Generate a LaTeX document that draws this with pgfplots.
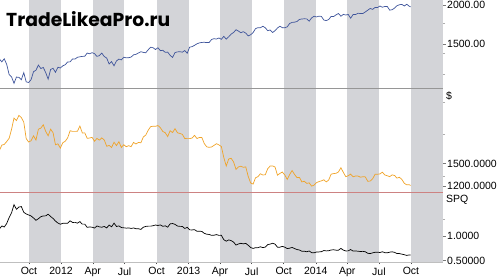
\documentclass[border=0pt]{standalone}
\usepackage{graphicx}
\usepackage{fontspec}
\setmainfont{Liberation Sans}
\newfontfamily\wmfont{Poppins}
\usepackage{pgfplots}
\usepackage{pgfplotstable}
\pgfplotsset{compat=1.18}
\definecolor{bandgray}{RGB}{211,212,216}
\definecolor{sepgray}{RGB}{150,150,150}
\definecolor{sepred}{RGB}{205,130,130}
\definecolor{tickgray}{RGB}{120,120,120}
\definecolor{spxblue}{RGB}{62,84,155}
\definecolor{goldor}{RGB}{240,163,40}

\pgfplotstableread{
d spx gold spq
7 1344 1542 1.147
14 1316 1594 1.211
21 1346 1601 1.189
28 1292 1628 1.260
35 1199 1659 1.384
42 1178 1745 1.481
49 1124 1852 1.648
56 1177 1828 1.553
63 1174 1877 1.599
70 1154 1857 1.609
77 1216 1813 1.491
84 1136 1656 1.458
91 1131 1624 1.436
98 1155 1636 1.416
105 1224 1682 1.374
112 1238 1642 1.326
119 1285 1746 1.359
126 1253 1756 1.401
133 1263 1788 1.416
140 1216 1724 1.418
147 1159 1683 1.452
154 1244 1746 1.404
161 1255 1713 1.365
168 1219 1598 1.311
175 1265 1606 1.270
182 1258 1566 1.245
189 1278 1617 1.265
196 1289 1631 1.265
203 1315 1664 1.265
210 1316 1731 1.315
217 1345 1725 1.283
224 1343 1725 1.284
231 1361 1726 1.268
238 1366 1776 1.300
245 1370 1710 1.248
252 1371 1711 1.248
259 1404 1659 1.182
266 1397 1662 1.190
273 1408 1668 1.185
280 1398 1631 1.167
287 1370 1658 1.210
294 1378 1642 1.192
301 1403 1663 1.185
308 1369 1643 1.200
315 1353 1583 1.170
322 1295 1591 1.229
329 1318 1572 1.193
336 1278 1622 1.269
343 1325 1590 1.200
350 1343 1627 1.211
357 1335 1572 1.178
364 1362 1598 1.173
371 1355 1579 1.165
378 1357 1589 1.171
385 1363 1580 1.159
392 1386 1620 1.169
399 1391 1605 1.154
406 1405 1620 1.153
413 1418 1616 1.140
420 1411 1671 1.184
427 1407 1690 1.201
434 1438 1735 1.207
441 1466 1770 1.207
448 1460 1774 1.215
455 1441 1773 1.230
462 1460 1781 1.220
469 1429 1760 1.232
476 1433 1724 1.203
483 1411 1712 1.213
490 1414 1676 1.185
497 1380 1731 1.254
504 1360 1714 1.260
511 1409 1751 1.243
518 1416 1712 1.209
525 1418 1705 1.202
532 1413 1697 1.201
539 1430 1657 1.159
546 1402 1656 1.181
553 1466 1656 1.130
560 1472 1662 1.129
567 1486 1687 1.135
574 1503 1657 1.102
581 1513 1667 1.102
588 1518 1667 1.098
595 1520 1609 1.059
602 1516 1578 1.041
609 1518 1573 1.036
616 1551 1577 1.017
623 1561 1592 1.020
630 1556 1608 1.033
637 1569 1596 1.017
644 1553 1581 1.018
651 1588 1476 0.929
658 1555 1395 0.897
665 1582 1462 0.924
672 1614 1469 0.910
679 1633 1435 0.879
686 1667 1363 0.818
693 1650 1387 0.841
700 1631 1393 0.854
707 1643 1383 0.842
714 1626 1387 0.853
721 1593 1297 0.814
728 1606 1234 0.768
735 1632 1223 0.749
742 1680 1283 0.764
749 1692 1294 0.765
756 1691 1322 0.782
763 1710 1310 0.766
770 1691 1312 0.776
777 1655 1370 0.828
784 1664 1395 0.838
791 1633 1396 0.855
798 1655 1386 0.837
805 1688 1308 0.775
812 1710 1325 0.775
819 1692 1338 0.791
826 1690 1310 0.775
833 1703 1268 0.745
840 1745 1315 0.754
847 1759 1352 0.769
854 1762 1315 0.746
861 1771 1285 0.726
868 1798 1287 0.716
875 1804 1244 0.690
882 1806 1250 0.692
889 1805 1230 0.681
896 1775 1235 0.696
903 1818 1204 0.662
910 1841 1213 0.659
917 1831 1237 0.676
924 1842 1247 0.677
931 1838 1254 0.682
938 1790 1264 0.706
945 1783 1244 0.698
952 1797 1262 0.702
959 1838 1318 0.717
966 1836 1323 0.721
973 1859 1326 0.713
980 1878 1339 0.713
987 1841 1379 0.749
994 1866 1335 0.715
1001 1857 1294 0.697
1008 1865 1303 0.699
1015 1815 1318 0.726
1022 1864 1293 0.694
1029 1863 1300 0.698
1036 1881 1300 0.691
1043 1878 1289 0.686
1050 1877 1293 0.689
1057 1900 1292 0.680
1064 1924 1250 0.650
1071 1949 1252 0.642
1078 1936 1273 0.658
1085 1963 1316 0.670
1092 1961 1317 0.672
1099 1985 1320 0.665
1106 1967 1337 0.680
1113 1978 1310 0.662
1120 1978 1303 0.659
1127 1925 1294 0.672
1134 1931 1311 0.679
1141 1955 1305 0.668
1148 1988 1280 0.644
1155 2003 1288 0.643
1162 2008 1267 0.631
1169 1985 1231 0.620
1176 2010 1216 0.605
1183 1982 1218 0.615
1187 1972 1210 0.614
}\data

\pgfplotsset{
  panel/.style={
    scale only axis, width=443pt,
    xmin=8.8, xmax=1280,
    axis x line=none, axis y line*=right,
    y axis line style={draw=none},
    tick align=outside,
    major tick length=2.5pt, minor tick length=2pt,
    ytick style={draw=tickgray, line width=0.5pt},
    minor y tick style={draw=tickgray!60, line width=0.5pt},
    yticklabel style={font=\fontsize{10.5}{12}\selectfont, inner sep=1.5pt},
    clip=true,
  }
}

\begin{document}
\begin{tikzpicture}
\path[use as bounding box] (0pt,0pt) rectangle (500pt,279pt);
% background with quarter bands and date axis
\begin{axis}[at={(0pt,17pt)}, anchor=south west,
  scale only axis, width=443pt, height=262pt,
  xmin=8.8, xmax=1280, ymin=0, ymax=1,
  axis x line*=bottom, axis y line=none,
  x axis line style={draw=gray!50, line width=0.6pt, -},
  xtick={92,184,275,366,458,550,640,731,823,915,1005,1096,1188},
  xticklabels={Oct,2012,Apr,Jul,Oct,2013,Apr,Jul,Oct,2014,Apr,Jul,Oct},
  tick align=outside, major tick length=2pt,
  xtick style={draw=black!70, line width=0.5pt},
  xticklabel style={font=\fontsize{10.5}{12}\selectfont},
]
\addplot[draw=none, fill=bandgray] coordinates {(92,0) (184,0) (184,1) (92,1)} -- cycle;
\addplot[draw=none, fill=bandgray] coordinates {(275,0) (366,0) (366,1) (275,1)} -- cycle;
\addplot[draw=none, fill=bandgray] coordinates {(458,0) (550,0) (550,1) (458,1)} -- cycle;
\addplot[draw=none, fill=bandgray] coordinates {(640,0) (731,0) (731,1) (640,1)} -- cycle;
\addplot[draw=none, fill=bandgray] coordinates {(823,0) (915,0) (915,1) (823,1)} -- cycle;
\addplot[draw=none, fill=bandgray] coordinates {(1005,0) (1096,0) (1096,1) (1005,1)} -- cycle;
\addplot[draw=none, fill=bandgray] coordinates {(1188,0) (1280,0) (1280,1) (1188,1)} -- cycle;
\end{axis}

% top panel: S&P 500 (log)
\begin{axis}[panel, at={(0pt,279pt)}, anchor=north west, height=88pt,
  ymode=log, log basis y=10, ymin=1086, ymax=2074,
  ytick={1500,2000}, yticklabels={1500.00,2000.00},
  minor ytick={1200,1400,1750},
]
\addplot[spxblue, line width=0.7pt] table[x=d, y=spx] {\data};
\end{axis}

% middle panel: gold
\begin{axis}[panel, at={(0pt,191pt)}, anchor=north west, height=104pt,
  ymin=1148, ymax=2138,
  ytick={1205,1417}, yticklabels={1200.0000,1500.0000},
  minor ytick={1300,1700,2000},
]
\addplot[goldor, line width=0.7pt] table[x=d, y=gold] {\data};
\draw[sepgray, line width=0.8pt] (rel axis cs:0,1) -- (rel axis cs:1,1);
\end{axis}

% bottom panel: ratio
\begin{axis}[panel, at={(0pt,87pt)}, anchor=north west, height=70pt,
  ymin=0.47, ymax=1.908,
  ytick={0.5,1.0}, yticklabels={0.50000,1.0000},
  minor ytick={1.35},
]
\addplot[black, line width=0.7pt] table[x=d, y=spq] {\data};
\draw[sepred, line width=0.8pt] (rel axis cs:0,1) -- (rel axis cs:1,1);
\end{axis}

\node[anchor=west, inner sep=0pt, font=\fontsize{10.5}{12}\selectfont] at (446pt,183pt) {\$};
\node[anchor=west, inner sep=0pt, font=\fontsize{10.5}{12}\selectfont] at (446pt,79pt) {SPQ};
\node[anchor=north west, inner sep=0pt] at (6pt,268pt) {\resizebox{164pt}{15pt}{\wmfont\bfseries TradeLikeaPro.ru}};
\end{tikzpicture}
\end{document}
